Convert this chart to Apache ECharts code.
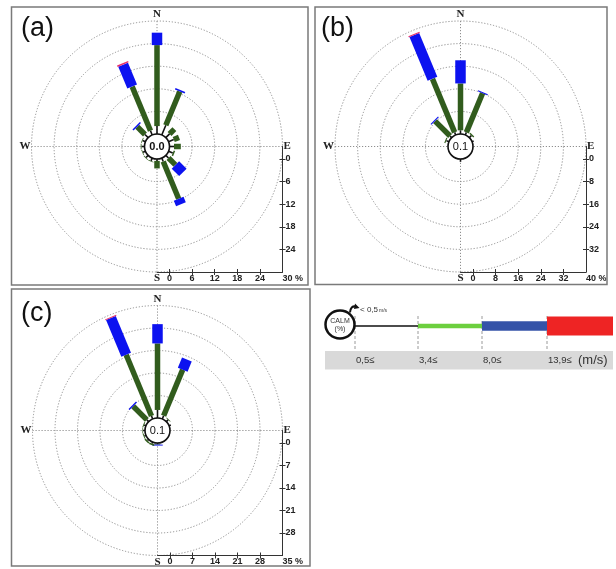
<!DOCTYPE html>
<html><head><meta charset="utf-8">
<script src="https://cdn.jsdelivr.net/npm/echarts@6/dist/echarts.min.js"></script>
<style>html,body{margin:0;padding:0;background:#fff}#c{width:616px;height:569px}</style>
</head><body><div id="c"></div>
<script>
// ---------- data ----------
const directions = ['N','NNE','NE','ENE','E','ESE','SE','SSE','S','SSW','SW','WSW','W','WNW','NW','NNW'];
const speedLabels = ['0,5\u2264','3,4\u2264','8,0\u2264','13,9\u2264'];

// (a) frequency (%) per direction for each wind-speed class
const aCalm = 0.0;
const aWeak     = [2.1,2.8,1.4,1.5,1.2,1.2,1.0,1.0,0.5,0.8,0.8,0.7,0.8,0.8,1.2,1.2];
const aModerate = [21.5,9.7,1.8,1.5,1.8,0.4,2.6,10.7,2.0,0.2,0.2,0.2,0.2,0.2,2.9,12.7];
const aStrong   = [3.3,0.4,0,0,0,0,2.8,1.6,0,0,0,0,0,0,0.4,6.3];
const aGale     = [0,0,0,0,0,0,0,0,0,0,0,0,0,0,0,0.4];
const aTicks = [0,6,12,18,24,30];

// (b)
const bCalm = 0.1;
const bWeak     = [1.3,1.0,1.0,0.6,0,0,0,0,1.0,0,0,0,0,1.0,0.8,1.0];
const bModerate = [16.6,15.0,0.5,0,0,0,0,0,0,0,0,0,0,0.4,7.5,20.5];
const bStrong   = [8.2,0.4,0,0,0,0,0,0,0,0,0,0,0,0,0.4,16.8];
const bGale     = [0,0,0,0,0,0,0,0,0,0,0,0,0,0,0,0.4];
const bTicks = [0,8,16,24,32,40];

// (c)
const cCalm = 0.1;
const cWeak     = [2.5,1.1,0.8,0.6,0,0,0,0,0.3,0.5,0.5,0.5,0.6,0.6,0.8,1.0];
const cModerate = [20.7,15.5,0.2,0,0,0,0,0,0.2,0.5,0.5,0.3,0.2,0.3,6.0,20.6];
const cStrong   = [6.0,3.4,0,0,0,0,0,0,0.3,0,0,0,0,0,0.4,12.4];
const cGale     = [0,0,0,0,0,0,0,0,0,0,0,0,0,0,0,0.3];
const cTicks = [0,7,14,21,28,35];

// ---------- styling / layout ----------
const classColors = ['#111111','#315c1d','#0c12f0','#e8306a'];
const classWidths = [1.6,5.5,10.5,12];
const R0 = 12.5;
const panels = [
  {name:'(a)', cx:157,   cy:146.5, R1:125.5, classes:[aWeak,aModerate,aStrong,aGale], ticks:aTicks, calm:aCalm, calmBold:true,
   box:[11.5,7,296.5,278], lab:[21,29]},
  {name:'(b)', cx:460.5, cy:146.5, R1:125.5, classes:[bWeak,bModerate,bStrong,bGale], ticks:bTicks, calm:bCalm, calmBold:false,
   box:[315,7,292,277.5], lab:[321,29]},
  {name:'(c)', cx:157.5, cy:430.5, R1:125,   classes:[cWeak,cModerate,cStrong,cGale], ticks:cTicks, calm:cCalm, calmBold:false,
   box:[11.5,289,298.5,277], lab:[21,314]}
];

const gridLine = {color:'#8f8f8f', type:[1.2,1.8], width:1};
const compass = {0:'N',90:'E',180:'S',270:'W'};

function makeRender(){
  return function(params, api){
    const r0 = api.value(0), r1 = api.value(1), ang = api.value(2), k = api.value(3);
    const p0 = api.coord([r0, ang]), p1 = api.coord([r1, ang]);
    const t = ang * Math.PI / 180;
    const nx = Math.cos(t), ny = Math.sin(t);
    const h = classWidths[k] / 2;
    return {type:'polygon', shape:{points:[
      [p0[0]+nx*h, p0[1]+ny*h],[p1[0]+nx*h, p1[1]+ny*h],
      [p1[0]-nx*h, p1[1]-ny*h],[p0[0]-nx*h, p0[1]-ny*h]]},
      style:{fill:classColors[k]}};
  };
}

const polar = [], angleAxis = [], radiusAxis = [], grid = [], xAxis = [], yAxis = [], series = [], graphic = [];
const axisFont = {fontFamily:'Liberation Sans', fontWeight:'bold', fontSize:9, color:'#222'};

panels.forEach((p, i) => {
  const M = p.ticks[p.ticks.length-1];
  const step = p.ticks[1] - p.ticks[0];
  // main rose
  polar[i] = {center:[p.cx, p.cy], radius:[R0, p.R1]};
  angleAxis[i] = {polarIndex:i, type:'value', min:0, max:360, interval:90, startAngle:90, clockwise:true,
    axisLine:{show:false}, axisTick:{show:false},
    axisLabel:{show:true, margin:1, formatter:v => compass[v] || '',
      fontFamily:'Liberation Serif', fontWeight:'bold', fontSize:11, color:'#222'},
    splitLine:{show:true, lineStyle:gridLine}};
  radiusAxis[i] = {polarIndex:i, type:'value', min:0, max:M, interval:step,
    axisLine:{show:false}, axisTick:{show:false}, axisLabel:{show:false},
    splitLine:{show:true, lineStyle:gridLine}};
  // calm circle
  polar[3+i] = {center:[p.cx, p.cy], radius:R0};
  angleAxis[3+i] = {polarIndex:3+i, type:'value', min:0, max:360, z:10,
    axisLine:{show:true, lineStyle:{color:'#111', width:1.6}}, axisTick:{show:false},
    axisLabel:{show:false}, splitLine:{show:false}};
  radiusAxis[3+i] = {polarIndex:3+i, type:'value', show:false};

  // stacked segments
  const data = [];
  directions.forEach((d, j) => {
    let c = 0;
    p.classes.forEach((arr, k) => {
      const v = arr[j];
      if (v > 0) data.push([c, c+v, j*22.5, k]);
      c += v;
    });
  });
  series.push({type:'custom', coordinateSystem:'polar', polarIndex:i, renderItem:makeRender(),
    encode:{radius:[0,1], angle:2}, data:data, clip:false, silent:true, z:3});

  // rulers (lower right quadrant)
  const mn = -R0 * M / (p.R1 - R0);
  grid[i] = {left:p.cx, top:p.cy, width:p.R1, height:p.R1, show:false};
  const tickVals = p.ticks.slice(0, -1);
  const line = {show:true, onZero:false, lineStyle:{color:'#333', width:1}};
  xAxis.push({gridIndex:i, type:'value', position:'bottom', min:mn, max:M,
    axisLine:line, axisTick:{show:true, inside:false, length:3, customValues:tickVals, lineStyle:{color:'#333'}},
    axisLabel:Object.assign({show:true, margin:2, customValues:p.ticks, alignMaxLabel:'left',
      formatter:v => v === M ? v + ' %' : String(v)}, axisFont),
    splitLine:{show:false}});
  xAxis.push({gridIndex:i, type:'value', position:'bottom', min:mn, max:M,
    axisLine:{show:false, onZero:false}, axisTick:{show:true, inside:true, length:3, customValues:tickVals, lineStyle:{color:'#333'}},
    axisLabel:{show:false}, splitLine:{show:false}});
  yAxis.push({gridIndex:i, type:'value', position:'right', inverse:true, min:mn, max:M,
    axisLine:line, axisTick:{show:true, inside:false, length:3, customValues:tickVals, lineStyle:{color:'#333'}},
    axisLabel:Object.assign({show:true, margin:3, customValues:tickVals}, axisFont),
    splitLine:{show:false}});
  yAxis.push({gridIndex:i, type:'value', position:'right', inverse:true, min:mn, max:M,
    axisLine:{show:false, onZero:false}, axisTick:{show:true, inside:true, length:3, customValues:tickVals, lineStyle:{color:'#333'}},
    axisLabel:{show:false}, splitLine:{show:false}});

  // frame, panel label, calm value
  graphic.push({type:'rect', shape:{x:p.box[0], y:p.box[1], width:p.box[2], height:p.box[3]},
    style:{fill:'none', stroke:'#7a7a7a', lineWidth:1.5}, silent:true, z:1});
  graphic.push({type:'text', x:p.lab[0], y:p.lab[1], silent:true,
    style:{text:p.name, font:'27px "Liberation Sans"', fill:'#111', align:'left', verticalAlign:'middle',
      textAlign:'left', textVerticalAlign:'middle'}});
  graphic.push({type:'text', x:p.cx, y:p.cy+0.5, silent:true, z:20,
    style:{text:p.calm.toFixed(1), font:(p.calmBold?'bold ':'')+'11px "Liberation Sans"', fill:'#111',
      align:'center', verticalAlign:'middle', textAlign:'center', textVerticalAlign:'middle'}});
});

// ---------- speed-class key ----------
const keyX = [355, 418, 482, 547, 613];
const keyH = [1.5, 4.5, 9.5, 19];
const keyColors = ['#111111', '#6ccf3e', '#3553a8', '#ee2424'];
const keyY = 326;
graphic.push({type:'rect', shape:{x:325, y:351, width:288, height:18.5}, style:{fill:'#d9d9d9'}, silent:true});
for (let k = 0; k < 4; k++) {
  graphic.push({type:'line', shape:{x1:keyX[k], y1:316, x2:keyX[k], y2:351},
    style:{stroke:'#9a9a9a', lineWidth:1, lineDash:[3,2]}, silent:true});
}
for (let k = 0; k < 4; k++) {
  graphic.push({type:'rect', shape:{x:keyX[k], y:keyY - keyH[k]/2, width:keyX[k+1]-keyX[k], height:keyH[k]},
    style:{fill:keyColors[k]}, silent:true, z:2});
  graphic.push({type:'text', x:keyX[k]+1, y:360.5, silent:true,
    style:{text:speedLabels[k], font:'9.5px "Liberation Sans"', fill:'#333', align:'left', verticalAlign:'middle',
      textAlign:'left', textVerticalAlign:'middle'}});
}
graphic.push({type:'text', x:578, y:360.5, silent:true,
  style:{text:'(m/s)', font:'13px "Liberation Sans"', fill:'#333', align:'left', verticalAlign:'middle',
    textAlign:'left', textVerticalAlign:'middle'}});
graphic.push({type:'ellipse', shape:{cx:340, cy:324.5, rx:14.5, ry:14}, style:{fill:'#fff', stroke:'#111', lineWidth:2.5}, silent:true, z:3});
graphic.push({type:'text', x:340, y:321, silent:true, z:4,
  style:{text:'CALM', font:'7px "Liberation Sans"', fill:'#333', align:'center', verticalAlign:'middle', textAlign:'center', textVerticalAlign:'middle'}});
graphic.push({type:'text', x:340, y:329, silent:true, z:4,
  style:{text:'(%)', font:'7px "Liberation Sans"', fill:'#333', align:'center', verticalAlign:'middle', textAlign:'center', textVerticalAlign:'middle'}});
graphic.push({type:'bezierCurve', shape:{x1:350, y1:312.5, cpx1:350.5, cpy1:305.5, x2:356, y2:306.5},
  style:{stroke:'#111', lineWidth:2, fill:'none'}, silent:true, z:4});
graphic.push({type:'polygon', shape:{points:[[355,303.5],[359.5,308],[354,309]]}, style:{fill:'#111'}, silent:true, z:4});
graphic.push({type:'text', x:360, y:309.5, silent:true,
  style:{text:'< 0,5', font:'8px "Liberation Sans"', fill:'#333', align:'left', verticalAlign:'middle', textAlign:'left', textVerticalAlign:'middle'}});
graphic.push({type:'text', x:379, y:310.5, silent:true,
  style:{text:'m/s', font:'5px "Liberation Sans"', fill:'#333', align:'left', verticalAlign:'middle', textAlign:'left', textVerticalAlign:'middle'}});

const chart = echarts.init(document.getElementById('c'), null, {renderer:'canvas'});
chart.setOption({
  animation:false,
  backgroundColor:'#fff',
  polar, angleAxis, radiusAxis, grid, xAxis, yAxis, series, graphic
});
</script></body></html>
